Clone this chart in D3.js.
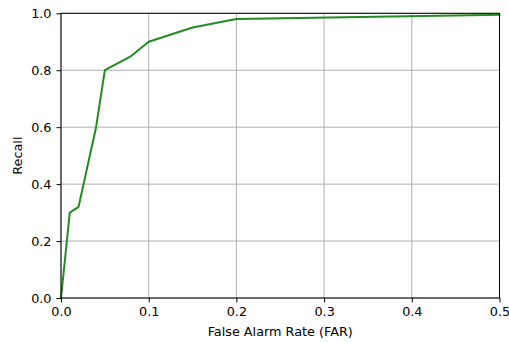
<!DOCTYPE html>
<html><head><meta charset="utf-8">
<script src="https://cdn.jsdelivr.net/npm/d3@7"></script>
<style>body{margin:0;background:#fff}svg{display:block}text{font-family:"DejaVu Sans",sans-serif}</style>
</head><body>
<svg id="c" width="509" height="342"></svg>
<script>
const farValues = [0, 0.01, 0.02, 0.04, 0.05, 0.08, 0.1, 0.15, 0.2, 0.5];
const recallValues = [0, 0.30, 0.32, 0.60, 0.80, 0.85, 0.90, 0.95, 0.98, 0.995];
const xTicks = [0, 0.1, 0.2, 0.3, 0.4, 0.5];
const yTicks = [0, 0.2, 0.4, 0.6, 0.8, 1.0];
const xLabel = "False Alarm Rate (FAR)";
const yLabel = "Recall";

const svg = d3.select("#c");
const L = 61, R = 499.5, T = 13.3, B = 298;
const FS = 12.8;
const x = d3.scaleLinear().domain([0, 0.5]).range([L, R]);
const y = d3.scaleLinear().domain([0, 1]).range([B, T]);

// grid
svg.append("g").selectAll("line").data(xTicks).join("line")
  .attr("x1", d => x(d)).attr("x2", d => x(d)).attr("y1", T).attr("y2", B)
  .attr("stroke", "#b0b0b0").attr("stroke-width", 1);
svg.append("g").selectAll("line").data(yTicks).join("line")
  .attr("y1", d => y(d)).attr("y2", d => y(d)).attr("x1", L).attr("x2", R)
  .attr("stroke", "#b0b0b0").attr("stroke-width", 1);

// line
const pts = farValues.map((f, i) => [f, recallValues[i]]);
svg.append("path").datum(pts)
  .attr("d", d3.line().x(d => x(d[0])).y(d => y(d[1])))
  .attr("fill", "none").attr("stroke", "#228b22").attr("stroke-width", 2)
  .attr("stroke-linejoin", "round").attr("stroke-linecap", "square");

// axes
const xa = svg.append("g").attr("transform", `translate(0,${B})`)
  .call(d3.axisBottom(x).tickValues(xTicks).tickFormat(d3.format(".1f")).tickSize(4.5).tickPadding(4));
const ya = svg.append("g").attr("transform", `translate(${L},0)`)
  .call(d3.axisLeft(y).tickValues(yTicks).tickFormat(d3.format(".1f")).tickSize(4.5).tickPadding(5));
[xa, ya].forEach(a => {
  a.select(".domain").remove();
  a.selectAll("line").attr("stroke", "#000").attr("stroke-width", 1);
  a.selectAll("text").attr("font-size", FS).attr("fill", "#000").attr("font-family", "DejaVu Sans");
});

// spines
svg.append("rect").attr("x", L).attr("y", T).attr("width", R - L).attr("height", B - T)
  .attr("fill", "none").attr("stroke", "#000").attr("stroke-width", 1);

svg.append("text").attr("x", (L + R) / 2).attr("y", 336).attr("text-anchor", "middle")
  .attr("font-size", FS).text(xLabel);
svg.append("text").attr("transform", `translate(21.5,${(T + B) / 2}) rotate(-90)`)
  .attr("text-anchor", "middle").attr("font-size", FS).text(yLabel);
</script>
</body></html>
